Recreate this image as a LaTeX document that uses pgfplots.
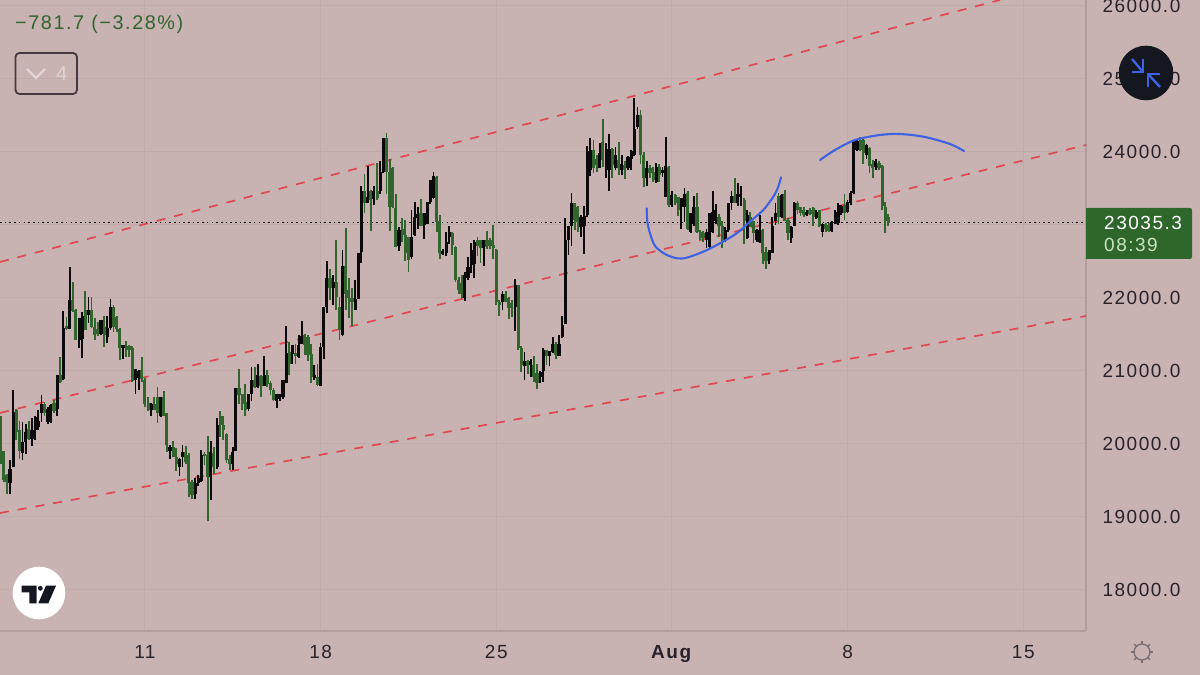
\documentclass[border=0pt]{standalone}
\usepackage{pgfplots}
\usepackage{pgfplotstable}
\usepackage{fontspec}
\pgfplotsset{compat=1.18}
\setmainfont[LetterSpace=8]{Liberation Sans}
\definecolor{bgc}{RGB}{201,179,178}
\definecolor{gridc}{RGB}{191,169,169}
\definecolor{axc}{RGB}{178,156,156}
\definecolor{upc}{RGB}{12,10,12}
\definecolor{dnc}{RGB}{50,100,46}
\definecolor{redc}{RGB}{224,72,80}
\definecolor{bluec}{RGB}{62,98,225}
\definecolor{tagc}{RGB}{47,102,44}
\definecolor{txtc}{RGB}{40,34,44}
\definecolor{boxc}{RGB}{70,56,66}
\definecolor{paleg}{RGB}{200,228,192}
\definecolor{navyc}{RGB}{20,22,32}
\definecolor{iconc}{RGB}{124,112,120}
\definecolor{chevc}{RGB}{224,212,214}
\pgfplotstableread{
k l h bl bh
-43 19320 19780 19460 19660
-42 19680 20740 19690 20440
-39 19780 20300 19870 20030
-38 19860 20280 20030 20160
-36 19970 20350 20070 20190
-35 20060 20380 20190 20370
-34 20190 20470 20230 20320
-33 20300 20670 20420 20550
-31 20270 20510 20300 20480
-30 20290 20550 20300 20540
-28 20380 20950 20480 20940
-26 20880 21820 20890 21590
-24 21570 22430 21580 21970
-21 21310 21720 21430 21720
-20 21180 21810 21440 21750
-18 21660 22020 21760 21840
-14 21490 21700 21510 21700
-12 21390 21750 21470 21590
-11 21560 21980 21590 21870
-7 21170 21360 21310 21350
-3 20690 21030 20870 21030
-2 20740 21010 20910 21000
2 20380 20560 20460 20550
5 20370 20640 20380 20640
8 19800 19980 19910 19960
11 19560 19810 19690 19800
12 19690 19990 19820 19890
16 19250 19530 19320 19460
17 19430 19570 19460 19530
18 19480 19920 19490 19850
21 19230 20040 19550 19890
23 19660 20360 19690 20260
28 19640 19960 19730 19890
29 19900 20770 19910 20760
33 20450 20690 20480 20690
34 20590 21050 20690 20870
36 20770 21090 20780 20940
38 20790 21200 20800 20940
42 20490 20690 20590 20680
43 20590 20690 20610 20680
44 20620 20880 20640 20870
45 20830 21610 20840 21250
47 21100 21350 21230 21350
49 21180 21490 21190 21350
50 21370 21680 21370 21480
54 20880 21080 20900 20950
56 20790 21380 20800 21330
57 21170 21880 21330 21870
58 21790 22510 21880 22270
60 21900 22310 22130 22220
63 21480 22660 21490 22440
67 21830 22240 21840 21980
68 21980 22620 21990 22620
69 22480 23540 22630 23470
71 23300 23810 23300 23390
73 23270 23540 23350 23470
75 23420 23880 23460 23730
76 23710 24190 23730 24190
81 22650 22970 22710 22930
85 22540 23200 22560 22840
86 22850 23320 22860 23110
87 22950 23240 23090 23150
89 22810 23170 23000 23160
90 23010 23320 23020 23320
91 23290 23620 23320 23620
92 23350 23730 23370 23670
95 22590 22670 22600 22650
96 22570 22900 22610 22770
97 22740 22990 22830 22900
102 21960 22360 22000 22310
103 22240 22560 22270 22430
104 22340 22760 22450 22660
105 22270 22790 22470 22770
108 22440 22800 22680 22790
114 21840 22090 21940 22060
118 21550 22260 21880 22180
121 20870 21260 21070 21140
123 20920 21160 21080 21130
126 20830 21000 20920 20980
127 20850 21310 21000 21290
129 21070 21280 21200 21280
130 21240 21460 21260 21370
132 21200 21490 21210 21370
133 21450 21750 21460 21630
134 21640 23100 21650 22790
135 22590 22990 22790 22990
136 22710 23440 22980 23300
139 22840 23140 22970 23110
140 22600 23260 22980 23120
141 23110 24080 23140 24020
142 23670 24190 23750 24030
145 23780 24120 23780 23990
147 23640 24120 23750 24040
148 23460 24250 23750 24040
150 23750 24070 23780 23960
152 23690 23960 23750 23840
154 23750 23940 23780 23930
155 23750 24030 23900 24020
156 23940 24740 23960 24320
157 24320 24620 24340 24510
160 23530 23880 23640 23780
163 23570 23850 23590 23800
165 23660 23800 23710 23760
166 23380 24210 23390 23810
168 23250 23470 23270 23410
171 22950 23370 23240 23370
172 23040 23500 23240 23430
174 22890 23160 22910 23160
175 22980 23400 23020 23250
179 22690 22950 22790 22910
180 22690 23160 22700 23160
181 22890 23470 22910 23180
182 23020 23290 23050 23200
185 22770 22970 22790 22930
186 22910 23300 22930 23300
187 23200 23460 23300 23400
189 23260 23570 23300 23430
190 23260 23530 23380 23430
192 22810 23210 22820 23140
195 22770 22950 22790 22930
196 22760 23140 22770 22930
199 22460 22660 22520 22660
200 22610 23110 22620 22990
201 23000 23300 23050 23170
203 23100 23430 23110 23410
206 22760 22980 22820 22970
207 22980 23320 22990 23300
211 23120 23200 23140 23180
214 23080 23200 23090 23180
216 22840 23030 22910 23020
219 22910 23050 22920 23040
220 23010 23200 23020 23180
221 23000 23300 23030 23270
222 23140 23270 23160 23260
224 23170 23340 23180 23320
225 23270 23460 23300 23440
226 23420 24160 23440 24140
227 24020 24160 24030 24150
230 23910 24110 23960 24100
233 23760 23910 23790 23880
}\tabK
\pgfplotstableread{
k l h bl bh
-46 19730 20390 19820 20320
-45 19480 19910 19500 19910
-44 19310 19590 19480 19570
-41 20050 20480 20160 20460
-40 19790 20320 19910 20190
-37 20050 20320 20070 20210
-32 20380 20580 20420 20550
-29 20420 20600 20450 20560
-27 20840 21190 20850 20940
-25 21560 21740 21570 21610
-23 21810 22220 21820 21970
-22 21420 21850 21430 21830
-19 21560 22100 21560 21830
-17 21590 22010 21600 21840
-16 21420 21720 21490 21600
-15 21480 21670 21510 21580
-13 21330 21760 21490 21600
-10 21530 21900 21600 21880
-9 21530 21750 21580 21740
-8 21150 21590 21310 21580
-6 21190 21410 21290 21340
-5 21190 21360 21290 21340
-4 20850 21340 20860 21320
-1 20850 21190 20890 21010
0 20500 20900 20550 20870
1 20450 20650 20470 20560
3 20460 20640 20470 20550
4 20290 20780 20420 20640
6 20380 20730 20390 20640
7 19890 20430 19980 20420
9 19820 20040 19820 19960
10 19630 19950 19730 19820
13 19730 19970 19750 19890
14 19270 19870 19460 19850
15 19240 19500 19300 19480
19 19710 19890 19830 19860
20 18940 20110 19550 19850
22 19590 19960 19690 19870
24 20100 20450 20260 20390
25 20060 20380 20190 20260
26 19740 20150 19780 20130
27 19640 19850 19730 19800
30 20550 21030 20670 20760
31 20460 20690 20550 20680
32 20380 20820 20460 20580
35 20770 21050 20780 20870
37 20650 20940 20790 20930
39 20780 21010 20820 20940
40 20670 20860 20740 20840
41 20590 20760 20600 20740
46 20940 21400 21100 21260
48 21100 21370 21200 21240
51 21220 21510 21360 21490
52 21130 21490 21220 21470
53 20830 21370 20920 21230
55 20790 21100 20810 20920
59 21970 22400 22130 22280
61 21840 22790 22020 22220
62 21420 22020 21560 21880
64 21840 22960 22060 22440
65 21720 22270 22000 22110
66 21610 22130 21940 22000
70 23170 23700 23300 23470
72 22920 23480 23340 23470
74 23340 23850 23370 23470
77 23420 24260 23730 24190
78 22920 23910 23240 23730
79 23230 23790 23240 23780
80 22700 23420 22700 23230
82 22770 23090 22860 22950
83 22500 23070 22610 22860
84 22360 22840 22520 22840
88 22980 23350 22990 23160
93 22910 23670 23040 23660
94 22530 23130 22610 23060
98 22590 22910 22730 22890
99 22220 22710 22250 22700
100 22060 22290 22110 22250
101 22000 22310 22060 22200
106 22580 22830 22710 22790
107 22480 22800 22680 22790
109 22670 22920 22700 22790
110 22670 22820 22710 22790
111 22540 23000 22680 22730
112 21900 22670 21950 22660
113 21750 21970 21900 21950
115 21940 22100 21950 22060
116 21710 22020 21860 22000
117 21740 21970 21860 21930
119 21290 22180 21310 22180
120 20990 21340 21080 21320
122 20960 21150 21070 21130
124 20850 21200 20920 21080
125 20750 21100 20830 20970
128 21080 21290 21200 21290
131 21170 21400 21220 21370
137 22930 23300 23070 23300
138 22910 23260 23040 23240
143 23710 24160 23780 24030
144 23720 23960 23820 23910
146 23800 24450 23890 24130
149 23640 24060 23820 24040
151 23690 24140 23780 23890
153 23630 23870 23750 23820
158 23830 24570 23960 24510
159 23520 24000 23640 23960
161 23650 23820 23710 23780
162 23590 23800 23620 23730
164 23590 23840 23690 23790
167 23240 23810 23270 23800
169 23270 23420 23300 23410
170 23120 23390 23200 23380
173 22930 23460 22950 23440
176 22890 23440 22910 23250
177 22790 22930 22820 22910
178 22770 22920 22820 22890
183 22840 23150 22980 23110
184 22690 23050 22790 22980
188 23300 23640 23300 23400
191 22740 23370 23060 23340
193 22970 23180 22970 23110
194 22760 23060 22890 23050
197 22470 22940 22620 22930
198 22400 22700 22500 22630
202 23020 23440 23110 23400
204 23050 23480 23050 23430
205 22800 23090 22890 23070
208 23150 23330 23200 23300
209 23120 23250 23160 23240
210 23110 23240 23140 23200
212 23140 23230 23150 23200
213 22980 23240 23110 23230
215 22970 23210 22990 23200
217 22910 23030 22940 23010
218 22910 23030 22920 23000
223 23070 23430 23170 23270
228 24020 24210 24030 24160
229 23830 24200 23980 24160
231 23710 24070 23810 24060
232 23640 23890 23780 23840
234 23760 23880 23780 23850
235 23200 23820 23260 23810
236 22890 23320 23050 23250
237 22990 23150 23030 23110
}\tabG
\begin{document}
\begin{tikzpicture}[x=1pt,y=1pt]
\useasboundingbox (0,0) rectangle (1200,675);
\fill[bgc] (0,0) rectangle (1200,675);
\begin{axis}[
  at={(0pt,44pt)}, anchor=south west,
  scale only axis, width=1086pt, height=631pt,
  xmin=-46.2, xmax=300, ymin=17438, ymax=26082,
  axis x line*=bottom, axis y line*=right,
  axis line style={draw=axc, line width=1.5pt},
  major tick length=0pt,
  grid=major, grid style={draw=gridc, line width=1pt},
  xtick={0,56,112,168,224,280},
  xticklabels={11,18,25,\textbf{Aug},8,15},
  ytick={18000,19000,20000,21000,22000,23000,24000,25000,26000},
  /pgf/number format/fixed,
  /pgf/number format/fixed zerofill,
  /pgf/number format/precision=1,
  /pgf/number format/1000 sep={},
  /pgf/number format/assume math mode=true,
  scaled y ticks=false,
  tick label style={font=\fontsize{19}{22}\selectfont, text=txtc},
  y tick label style={xshift=13pt},
  x tick label style={yshift=-11pt},
  clip=true,
]
\addplot[black, line width=1.6pt, dash pattern=on 1.6pt off 3.1pt, forget plot] coordinates {(-46.2,23035.3) (300,23035.3)};
\addplot[redc, line width=1.7pt, dash pattern=on 9pt off 9pt, forget plot] coordinates {(-46.2,22493) (272.6,26082)};
\addplot[redc, line width=1.7pt, dash pattern=on 9pt off 9pt, forget plot] coordinates {(-46.2,20425) (300,24096)};
\addplot[redc, line width=1.7pt, dash pattern=on 9pt off 9pt, forget plot] coordinates {(-46.2,19055) (300,21753)};
\addplot[dnc, line width=1.8pt, forget plot, quiver={u=0, v=\thisrow{h}-\thisrow{l}}] table[x=k, y=l] {\tabG};
\addplot[dnc, line width=3.1pt, forget plot, quiver={u=0, v=\thisrow{bh}-\thisrow{bl}}] table[x=k, y=bl] {\tabG};
\addplot[upc, line width=1.8pt, forget plot, quiver={u=0, v=\thisrow{h}-\thisrow{l}}] table[x=k, y=l] {\tabK};
\addplot[upc, line width=3.1pt, forget plot, quiver={u=0, v=\thisrow{bh}-\thisrow{bl}}] table[x=k, y=bl] {\tabK};
\end{axis}
\begin{scope}[x=1pt,y=-1pt,shift={(0pt,675pt)}]
\draw[bluec, line width=2.1pt, line cap=round] plot[smooth, tension=0.5] coordinates {(646.7,208.3) (647.3,221.7) (650,233.3) (655,246) (665,254) (676.7,258.3) (686.7,257.7) (703.3,251.7) (720,243.3) (736.7,233.3) (750,221.7) (763.3,210) (773.3,196.7) (778.3,186.7) (781,177.3)};
\draw[bluec, line width=2.1pt, line cap=round] plot[smooth, tension=0.5] coordinates {(820,160) (835,150) (855,140) (880,135) (900,134) (925,137) (950,144) (964,151)};
\node[anchor=base west, inner sep=0pt, text=dnc, font=\fontsize{19.8}{22}\selectfont] at (15,29.5) {−781.7 (−3.28\%)};
\draw[draw=boxc, line width=1.8pt, rounded corners=4pt] (15.5,53) rectangle (77,94);
\draw[chevc, line width=2.2pt] (27,69) -- (36,78) -- (45,69);
\node[anchor=base west, inner sep=0pt, text=chevc, font=\fontsize{20}{22}\selectfont] at (56,81) {4};
\fill[tagc, rounded corners=2pt] (1086,208) rectangle (1192,259);
\fill[tagc] (1086,208) rectangle (1092,259);
\node[anchor=base west, inner sep=0pt, text=white, font=\fontsize{19}{22}\selectfont] at (1104,229.5) {23035.3};
\node[anchor=base west, inner sep=0pt, text=paleg, font=\fontsize{19}{22}\selectfont] at (1104,252) {08:39};
\fill[navyc] (1146,73) circle (27.3);
\draw[bluec, line width=2.4pt] (1132,59) -- (1143,72);
\draw[bluec, line width=2.4pt] (1143,59) -- (1143,72) -- (1132,72);
\draw[bluec, line width=2.4pt] (1160,87) -- (1148,74);
\draw[bluec, line width=2.4pt] (1160,74) -- (1148,74) -- (1148,87);
\fill[white] (39,593) circle (26.3);
\fill[navyc] (21.7,585.7) -- (36.7,585.7) -- (36.7,603.3) -- (29.3,603.3) -- (29.3,592.3) -- (21.7,592.3) -- cycle;
\fill[navyc] (40.3,588.3) circle (2.4);
\fill[navyc] (46,585.7) -- (56,585.7) -- (48.3,603.3) -- (38.3,603.3) -- cycle;
\draw[iconc, line width=1.4pt] (1142,652) circle (8);
\foreach \a in {0,45,...,315} \draw[iconc, line width=1.4pt] (1142,652) ++(\a:8) -- ++(\a:3);
\end{scope}
\end{tikzpicture}
\end{document}
